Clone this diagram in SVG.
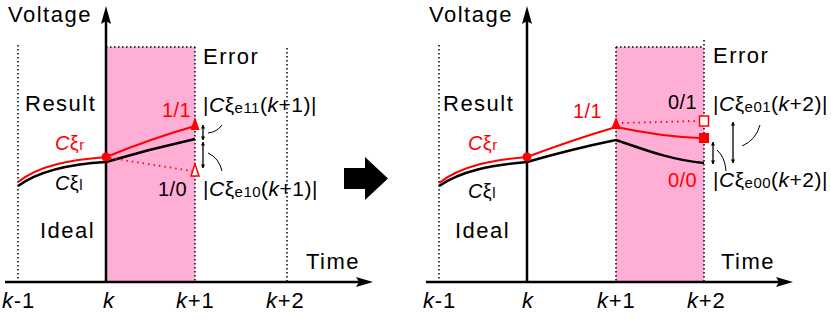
<svg xmlns="http://www.w3.org/2000/svg" width="831" height="322" viewBox="0 0 831 322">
<defs>
<style>
text{font-family:"Liberation Sans",Arial,Helvetica,sans-serif;fill:#000}
.big{font-size:22px;letter-spacing:1.5px}
.tick{font-size:22px;letter-spacing:0.8px}
.f{font-size:20px;letter-spacing:0.4px}
.fm{font-size:21px;letter-spacing:0.5px}
.sub{font-size:15px}
.red{fill:#ff0000}
.it{font-style:italic}
.dot{fill:none;stroke:#000;stroke-width:1.5;stroke-dasharray:1.5 2.5}
.axis{fill:none;stroke:#000;stroke-width:2.5}
.pink{fill:#ffaed6}
.rc{fill:none;stroke:#ff0000;stroke-width:2}
.bc{fill:none;stroke:#000;stroke-width:2.5}
.rdot{fill:none;stroke:#ff0000;stroke-width:1.8;stroke-dasharray:1.5 4}
.dim{fill:none;stroke:#000;stroke-width:1.3;marker-start:url(#ah);marker-end:url(#ah)}
.lead{fill:none;stroke:#000;stroke-width:1}
</style>
<marker id="ah" viewBox="0 0 10 10" refX="9" refY="5" markerWidth="4" markerHeight="5" orient="auto-start-reverse" markerUnits="userSpaceOnUse">
<path d="M0,0 L10,5 L0,10 Z" fill="#000"/>
</marker>
</defs>
<rect width="831" height="322" fill="#fff"/>

<!-- LEFT PANEL -->
<g id="left-panel">
<rect id="left-error-box" class="pink" x="106" y="47" width="89" height="235"/>
<g id="left-grid">
<path class="dot" d="M18,45 V282"/>
<path class="dot" d="M287,48 V282"/>
<path class="dot" d="M195,47 V282"/>
<path class="dot" d="M106,47 H195"/>
</g>
<g id="left-axes">
<path class="axis" d="M106,282 V18"/>
<path d="M106,6 L111,24 L106,21 L101,24 Z" fill="#000"/>
<path class="axis" d="M5,282 H360"/>
<path d="M373,282 L356,277 L359,282 L356,287 Z" fill="#000"/>
</g>
<g id="left-curves">
<path class="rc" d="M18,182 C40,165 70,160 106,157" stroke-width="2.6"/>
<path class="bc" d="M18,186 C40,170 70,164 106,162"/>
<path class="rc" d="M106,157 Q150,139 195,126"/>
<path class="bc" d="M106,162 Q150,149 195,139"/>
<path class="rdot" d="M110,158 L192,171"/>
<circle cx="106" cy="157" r="4.5" fill="#ff0000"/>
<path d="M195,117 L199.5,130 L190.5,130 Z" fill="#ff0000"/>
<path d="M195,164 L199,176 L191,176 Z" fill="#fff" stroke="#ff0000" stroke-width="1.5"/>
</g>
<g id="left-connectors">
<path class="dim" d="M203,125 V140"/>
<path class="dim" d="M203,142 V168"/>
<path class="lead" d="M208,133 Q217,132 222,125"/>
<path class="lead" d="M208,153 Q219,158 222,171"/>
</g>
<g id="left-labels">
<text class="big" x="8" y="22">Voltage</text>
<text class="big" x="203" y="64">Error</text>
<text class="big" x="25" y="111">Result</text>
<text class="big" x="40" y="238">Ideal</text>
<text class="big" x="306" y="269">Time</text>
<text class="f red" x="162" y="117">1/1</text>
<text class="f" x="158" y="196">1/0</text>
<text class="f red" x="55" y="150"><tspan class="it">C</tspan>ξ<tspan class="sub">r</tspan></text>
<text class="f" x="55" y="190"><tspan class="it">C</tspan>ξ<tspan class="sub">l</tspan></text>
<text class="fm" x="203" y="112">|<tspan class="it">C</tspan>ξ<tspan class="sub" dy="1">e11</tspan><tspan dy="-1">(</tspan><tspan class="it">k</tspan>+1)|</text>
<text class="fm" x="203" y="196">|<tspan class="it">C</tspan>ξ<tspan class="sub" dy="1">e10</tspan><tspan dy="-1">(</tspan><tspan class="it">k</tspan>+1)|</text>
<text class="tick" x="2" y="308"><tspan class="it">k</tspan>-1</text>
<text class="tick" x="103" y="308"><tspan class="it">k</tspan></text>
<text class="tick" x="176" y="308"><tspan class="it">k</tspan>+1</text>
<text class="tick" x="266" y="308"><tspan class="it">k</tspan>+2</text>
</g>
</g>

<g id="transition-arrow">
<path d="M344,168 H365 V157 L388,178.5 L365,200 V189 H344 Z" fill="#000"/>
</g>

<!-- RIGHT PANEL -->
<g id="right-panel">
<rect id="right-error-box" class="pink" x="616" y="47" width="88" height="235"/>
<g id="right-grid">
<path class="dot" d="M439,45 V282"/>
<path class="dot" d="M616,47 V282"/>
<path class="dot" d="M704,40 V282"/>
<path class="dot" d="M616,47 H704"/>
</g>
<g id="right-axes">
<path class="axis" d="M527,282 V18"/>
<path d="M527,6 L532,24 L527,21 L522,24 Z" fill="#000"/>
<path class="axis" d="M426,282 H780"/>
<path d="M793,282 L776,277 L779,282 L776,287 Z" fill="#000"/>
</g>
<g id="right-curves">
<path class="rc" d="M439,183 C461,166 491,160 527,157" stroke-width="1.8"/>
<path class="bc" d="M439,186 C461,171 491,165 527,162"/>
<path class="rc" d="M527,157 Q572,140 616,127"/>
<path class="rc" d="M616,127 C640,132 670,137 700,138"/>
<path class="bc" d="M527,162 Q572,149 616,140"/>
<path class="bc" d="M616,140 C640,148 670,160 704,163"/>
<path class="rdot" d="M622,123 L698,121"/>
<circle cx="527" cy="157" r="4.5" fill="#ff0000"/>
<path d="M616,117 L621,129 L611,129 Z" fill="#ff0000"/>
<rect x="699.5" y="116" width="9" height="10" fill="#fff" stroke="#ff0000" stroke-width="1.5"/>
<rect x="699" y="133" width="10" height="10" fill="#ff0000"/>
</g>
<g id="right-connectors">
<path class="dim" d="M713,142 V164"/>
<path class="dim" d="M733,122 V163"/>
<path class="lead" d="M742,146 Q756,140 760,125"/>
<path class="lead" d="M717,150 Q725,157 726,171"/>
</g>
<g id="right-labels">
<text class="big" x="429" y="22">Voltage</text>
<text class="big" x="713" y="63">Error</text>
<text class="big" x="443" y="111">Result</text>
<text class="big" x="455" y="238">Ideal</text>
<text class="big" x="721" y="269">Time</text>
<text class="f red" x="573" y="118">1/1</text>
<text class="f" x="668" y="109">0/1</text>
<text class="f red" x="668" y="187">0/0</text>
<text class="f red" x="468" y="150"><tspan class="it">C</tspan>ξ<tspan class="sub">r</tspan></text>
<text class="f" x="468" y="198"><tspan class="it">C</tspan>ξ<tspan class="sub">l</tspan></text>
<text class="fm" x="713" y="111">|<tspan class="it">C</tspan>ξ<tspan class="sub" dy="1">e01</tspan><tspan dy="-1">(</tspan><tspan class="it">k</tspan>+2)|</text>
<text class="fm" x="713" y="187">|<tspan class="it">C</tspan>ξ<tspan class="sub" dy="1">e00</tspan><tspan dy="-1">(</tspan><tspan class="it">k</tspan>+2)|</text>
<text class="tick" x="423" y="308"><tspan class="it">k</tspan>-1</text>
<text class="tick" x="522" y="308"><tspan class="it">k</tspan></text>
<text class="tick" x="597" y="308"><tspan class="it">k</tspan>+1</text>
<text class="tick" x="687" y="308"><tspan class="it">k</tspan>+2</text>
</g>
</g>
</svg>
